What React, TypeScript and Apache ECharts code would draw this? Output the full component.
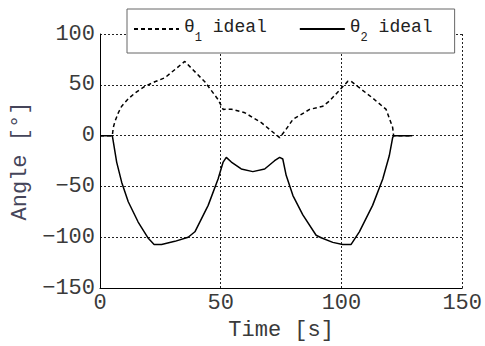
import React, { useEffect, useRef } from "react";
import * as echarts from "echarts";

const theta1Time = [0, 5.1, 5.5, 6.2, 7.6, 9, 11.7, 14.5, 18.6, 22.7, 26.9, 35.1, 43.4, 48.9, 51, 54.4, 60, 66.8, 74.4, 77, 79.9, 86.8, 92.3, 95, 102.6, 104, 112.9, 118.5, 121.2, 121.6, 129.3];
const theta1Vals = [0, 0, 7.9, 14, 22.5, 29, 36.2, 42, 48.5, 53, 57, 73, 53, 35.5, 25.8, 26, 22.5, 12.8, -2, 6, 16, 25.8, 29, 34, 53.4, 53.4, 37, 25.8, 8, 0, 0];

const theta2Time = [0, 5.1, 6.9, 9, 11.7, 15.8, 20, 22.4, 25.5, 31, 36.5, 39.3, 44.8, 48.9, 51, 52.3, 54.4, 58.5, 63.3, 68.2, 72.3, 74.4, 75.7, 77.1, 79.9, 84, 89.5, 91.6, 96.4, 100.5, 104, 107.4, 112.9, 117.1, 119.8, 121.2, 121.6, 129.3];
const theta2Vals = [0, 0, -26, -46, -65, -85, -101, -107, -107, -104, -100, -94.6, -68.6, -42.6, -26, -21.4, -26, -32.8, -35.4, -32.8, -24.7, -21.4, -23, -39, -59, -78, -98, -100.5, -105, -107, -107, -94.6, -68.6, -42.6, -19.8, -2, 0, 0];

const seriesNames = ["θ1 ideal", "θ2 ideal"];
const xTicks = { min: 0, max: 150, interval: 50 };
const yTicks = { min: -150, max: 100, interval: 50 };

const FONT = "Liberation Mono";

export default function App() {
  const ref = useRef<HTMLDivElement>(null);
  useEffect(() => {
    if (!ref.current) return;
    const chart = echarts.init(ref.current, null, { renderer: "svg" });
    const zip = (a: number[], b: number[]) => a.map((v, i) => [v, b[i]]);
    const fmt = (v: number) => String(v).replace("-", "\u2212");
    chart.setOption({
      animation: false,
      backgroundColor: "#fff",
      grid: { left: 100, right: 22, top: 34, bottom: 56 },
      legend: {
        left: 127,
        top: 9,
        padding: [9, 22, 9, 6],
        itemGap: 32,
        itemWidth: 45,
        itemHeight: 14,
        backgroundColor: "#fff",
        borderColor: "#666",
        borderWidth: 1,
        itemStyle: { opacity: 0 },
        data: seriesNames,
        formatter: (name: string) =>
          name === seriesNames[0] ? "{a|θ}{b|1}{a| ideal}" : "{a|θ}{b|2}{a| ideal}",
        textStyle: {
          fontFamily: FONT,
          color: "#222",
          rich: {
            a: { fontFamily: FONT, fontSize: 18, lineHeight: 22, color: "#222", verticalAlign: "top" },
            b: { fontFamily: FONT, fontSize: 12, lineHeight: 12, color: "#222", padding: [14, 0, 0, 0], verticalAlign: "top" },
          },
        },
      },
      xAxis: {
        type: "value",
        min: xTicks.min,
        max: xTicks.max,
        interval: xTicks.interval,
        name: "Time [s]",
        nameLocation: "middle",
        nameGap: 28,
        nameTextStyle: { fontFamily: FONT, fontSize: 22, color: "#3a3a3a" },
        axisLine: { show: true, onZero: false, lineStyle: { color: "#000", width: 1 } },
        axisTick: { show: false },
        axisLabel: { fontFamily: FONT, fontSize: 22, color: "#3a3a3a", margin: 4, formatter: fmt },
        splitLine: { show: true, showMinLine: false, lineStyle: { color: "#222", type: [2, 2], width: 1 } },
      },
      yAxis: {
        type: "value",
        min: yTicks.min,
        max: yTicks.max,
        interval: yTicks.interval,
        name: "Angle [°]",
        nameLocation: "middle",
        nameGap: 68,
        nameTextStyle: { fontFamily: FONT, fontSize: 22, color: "#45455a" },
        axisLine: { show: true, onZero: false, lineStyle: { color: "#000", width: 1 } },
        axisTick: { show: false },
        axisLabel: { fontFamily: FONT, fontSize: 22, color: "#3a3a3a", margin: 5, formatter: fmt },
        splitLine: { show: true, showMinLine: false, lineStyle: { color: "#222", type: [2, 2], width: 1 } },
      },
      series: [
        {
          name: seriesNames[0],
          type: "line",
          symbol: "none",
          data: zip(theta1Time, theta1Vals),
          lineStyle: { color: "#000", width: 1.5, type: [4, 3] },
          itemStyle: { color: "#000" },
          z: 3,
        },
        {
          name: seriesNames[1],
          type: "line",
          symbol: "none",
          data: zip(theta2Time, theta2Vals),
          lineStyle: { color: "#000", width: 1.5, type: "solid" },
          itemStyle: { color: "#000" },
          z: 4,
        },
      ],
    });
    return () => chart.dispose();
  }, []);
  return <div ref={ref} style={{ width: 485, height: 346, position: "absolute", left: 0, top: 0 }} />;
}
